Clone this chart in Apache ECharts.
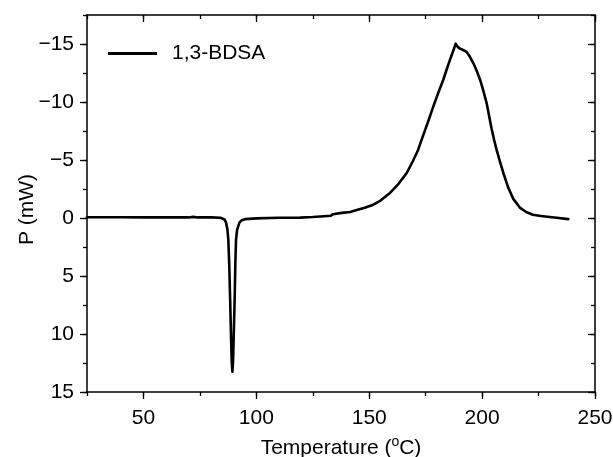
<!DOCTYPE html>
<html>
<head>
<meta charset="utf-8">
<script src="https://cdn.jsdelivr.net/npm/echarts@6/dist/echarts.min.js"></script>
<style>
html,body{margin:0;padding:0;background:#fff;}
#c{width:613px;height:457px;}
</style>
</head>
<body>
<div id="c"></div>
<script>
// Data
const seriesName = '1,3-BDSA';
const temperature = [25, 30, 40, 50, 60, 70, 72, 74, 80, 84, 85, 86, 86.6, 87.2, 87.6, 88.0, 88.4, 88.8, 89.1, 89.4, 89.7, 90.0, 90.4, 90.7, 91.0, 91.5, 92.5, 93.5, 95, 100, 110, 119.3, 125, 130, 133, 134, 137, 141.5, 144.5, 148, 151.8, 155, 159.2, 163, 166.6, 169.2, 171.7, 173.2, 174.7, 176.6, 178.4, 180.6, 182.8, 184.3, 185.8, 187.1, 188.3, 189.2, 190.2, 191.2, 192.2, 193.2, 194.6, 196.1, 197.6, 199.1, 200.5, 202.0, 203.1, 204.2, 205.3, 206.4, 208, 209.4, 211.6, 213.8, 216.7, 219.7, 222.5, 226, 232, 238.2];
const power = [-0.06, -0.06, -0.06, -0.05, -0.05, -0.05, -0.1, -0.05, -0.05, -0.02, 0.05, 0.15, 0.4, 1.0, 1.9, 4.0, 7.0, 10.3, 12.4, 13.25, 12.3, 10.0, 7.0, 4.0, 1.9, 1.0, 0.4, 0.2, 0.1, 0.03, -0.02, -0.03, -0.08, -0.15, -0.2, -0.33, -0.42, -0.52, -0.68, -0.88, -1.15, -1.5, -2.16, -2.95, -3.88, -4.85, -5.89, -6.75, -7.55, -8.6, -9.62, -10.8, -11.92, -12.8, -13.65, -14.35, -15.03, -14.75, -14.6, -14.52, -14.42, -14.3, -13.9, -13.36, -12.7, -11.92, -11.0, -9.91, -8.8, -7.7, -6.75, -5.89, -4.8, -3.88, -2.6, -1.65, -0.9, -0.5, -0.28, -0.17, -0.05, 0.1];
const xMajorTicks = [50, 100, 150, 200, 250];
const yMajorTicks = [-15, -10, -5, 0, 5, 10, 15];
const xTitle = 'Temperature (';
const yTitle = 'P (mW)';

const FONT = 'Liberation Sans, Arial, sans-serif';
const FS = 21;
const X_MIN = 25, X_MAX = 250, X_STEP = 25;
const Y_MIN = -17.5, Y_MAX = 15, Y_STEP = 2.5;
const lineCol = '#000';
const tickStyle = {color: lineCol, width: 1.3};
const axLine = {show: true, onZero: false, lineStyle: {color: lineCol, width: 1.5}};
const noLine = {show: false, onZero: false};

function baseX(pos, opts) {
  return Object.assign({
    type: 'value', position: pos, min: X_MIN, max: X_MAX, interval: X_STEP, gridIndex: 0,
    axisLine: noLine, axisLabel: {show: false}, splitLine: {show: false}, axisTick: {show: false}
  }, opts);
}
function baseY(pos, opts) {
  return Object.assign({
    type: 'value', position: pos, min: Y_MIN, max: Y_MAX, interval: Y_STEP, inverse: true, gridIndex: 0,
    axisLine: noLine, axisLabel: {show: false}, splitLine: {show: false}, axisTick: {show: false}
  }, opts);
}

const chart = echarts.init(document.getElementById('c'), null, {renderer: 'canvas'});
chart.setOption({
  animation: false,
  backgroundColor: '#fff',
  grid: {left: 87, right: 18, top: 15, bottom: 65, containLabel: false, outerBoundsMode: 'none'},
  legend: {
    left: 108, top: 43, padding: 0,
    icon: 'rect', itemWidth: 49, itemHeight: 3,
    textStyle: {fontFamily: FONT, fontSize: FS, color: '#000', padding: [0, 0, 0, 10]},
    data: [seriesName]
  },
  xAxis: [
    baseX('bottom', {
      axisLine: axLine,
      axisTick: {show: true, length: 4, inside: false, lineStyle: tickStyle},
      axisLabel: {show: true, margin: 16, color: '#000', fontFamily: FONT, fontSize: FS,
        formatter: v => (v % 50 === 0 ? String(v) : '')},
      name: '{t|' + xTitle + '}{s|o}{t|C)}',
      nameLocation: 'middle', nameGap: 43, nameMoveOverlap: false,
      nameTextStyle: {rich: {
        t: {fontFamily: FONT, fontSize: FS, color: '#000'},
        s: {fontFamily: FONT, fontSize: 14, color: '#000', verticalAlign: 'top', padding: [0, 0, 12, 0]}
      }}
    }),
    baseX('bottom', {axisTick: {show: true, customValues: xMajorTicks, length: 7, inside: false, lineStyle: tickStyle}}),
    baseX('top', {axisLine: axLine, axisTick: {show: true, length: 4, inside: true, lineStyle: tickStyle}}),
    baseX('top', {axisTick: {show: true, customValues: xMajorTicks, length: 7, inside: true, lineStyle: tickStyle}})
  ],
  yAxis: [
    baseY('left', {
      axisLine: axLine,
      axisTick: {show: true, length: 4, inside: false, lineStyle: tickStyle},
      axisLabel: {show: true, margin: 13, color: '#000', fontFamily: FONT, fontSize: FS,
        formatter: v => (v % 5 === 0 ? String(v).replace('-', '\u2212') : '')},
      name: yTitle, nameLocation: 'middle', nameGap: 49, nameMoveOverlap: false,
      nameTextStyle: {fontFamily: FONT, fontSize: FS, color: '#000', padding: [0, 12, 0, 0]}
    }),
    baseY('left', {axisTick: {show: true, customValues: yMajorTicks, length: 7, inside: false, lineStyle: tickStyle}}),
    baseY('right', {axisLine: axLine, axisTick: {show: true, length: 4, inside: true, lineStyle: tickStyle}}),
    baseY('right', {axisTick: {show: true, customValues: yMajorTicks, length: 7, inside: true, lineStyle: tickStyle}})
  ],
  series: [{
    name: seriesName,
    type: 'line',
    xAxisIndex: 0, yAxisIndex: 0,
    data: temperature.map((t, i) => [t, power[i]]),
    symbol: 'none', showSymbol: false,
    smooth: false,
    lineStyle: {color: '#000', width: 2.6, join: 'round', cap: 'round'},
    itemStyle: {color: '#000'}
  }]
});
</script>
</body>
</html>
